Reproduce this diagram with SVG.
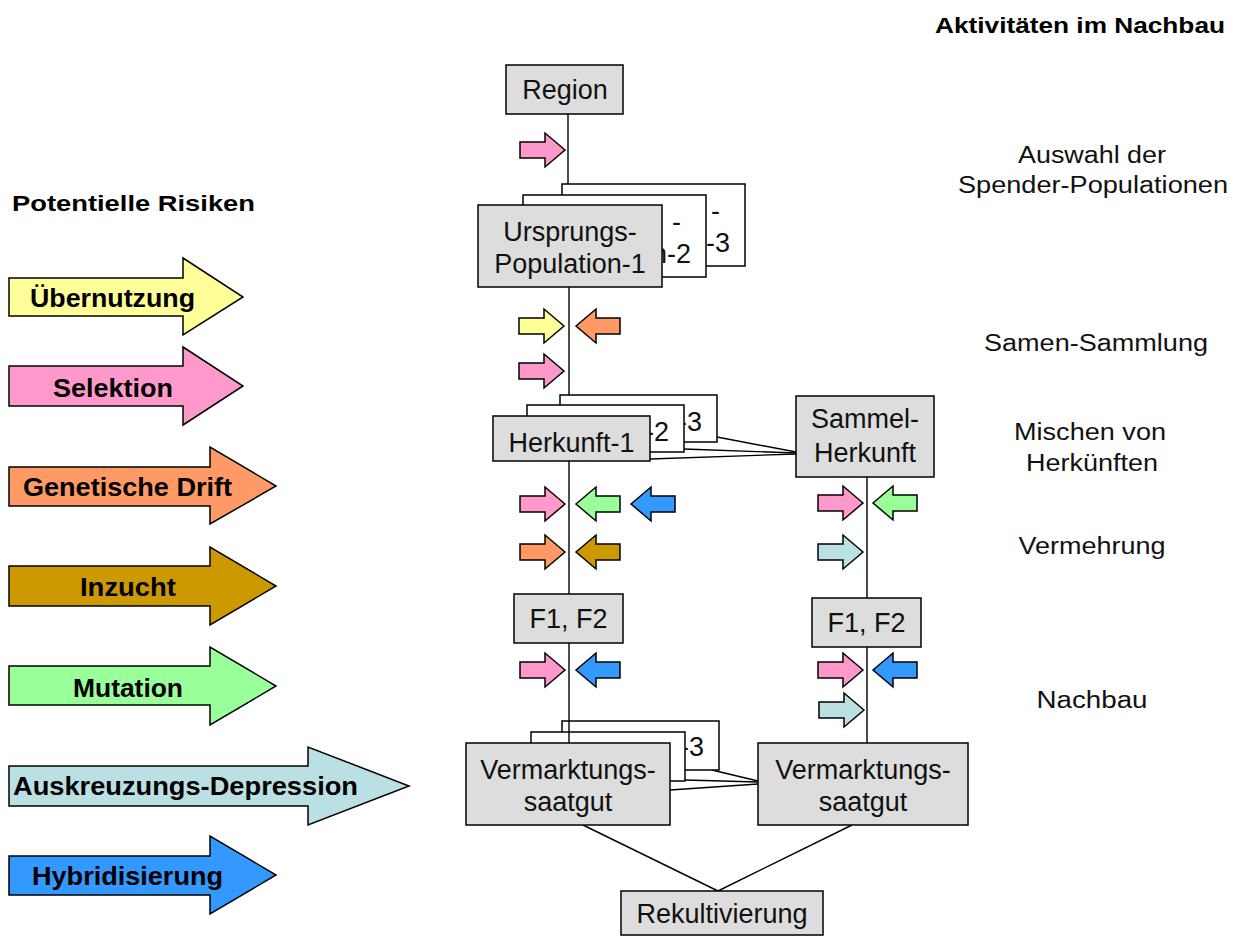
<svg xmlns="http://www.w3.org/2000/svg" xmlns:xlink="http://www.w3.org/1999/xlink" width="1237" height="936" viewBox="0 0 1237 936">
<style>
.box{fill:#dddddd;stroke:#000;stroke-width:1.5}
.wbox{fill:#fff;stroke:#000;stroke-width:1.5}
.nt{font-family:"Liberation Sans",Arial,sans-serif;font-size:27px;fill:#111;text-anchor:middle}
.ne{text-anchor:end}
.lt{font-family:"Liberation Sans",Arial,sans-serif;font-size:25px;font-weight:bold;fill:#000;text-anchor:middle}
.hd{font-family:"Liberation Sans",Arial,sans-serif;font-size:22px;font-weight:bold;fill:#000}
.rt{font-family:"Liberation Sans",Arial,sans-serif;font-size:23px;fill:#111;text-anchor:middle}
.ln{stroke:#000;stroke-width:1.4;fill:none}
.arr{stroke:#000;stroke-width:1.5;stroke-linejoin:miter}
.yel{fill:#ffff99}.pink{fill:#ff99cc}.ora{fill:#ff9966}.brn{fill:#cc9900}.grn{fill:#99ff99}.cya{fill:#bbe0e3}.blu{fill:#3399ff}
</style>
<defs>
<polygon id="ar" points="0,0 -20,-17 -20,-8 -45,-8 -45,8 -20,8 -20,17"/>
<polygon id="al" points="0,0 20,-17 20,-8 44,-8 44,8 20,8 20,17"/>
</defs>

<!-- headers -->
<text class="hd" x="12" y="211" textLength="243" lengthAdjust="spacingAndGlyphs">Potentielle Risiken</text>
<text class="hd" x="935" y="33" textLength="290" lengthAdjust="spacingAndGlyphs">Aktivitäten im Nachbau</text>

<!-- legend -->
<g id="legend-uebernutzung">
<polygon class="arr yel" points="9,278 183,278 183,258 243,297 183,335 183,316 9,316"/>
<text class="lt" x="112.5" y="307" textLength="165" lengthAdjust="spacingAndGlyphs">Übernutzung</text>
</g>
<g id="legend-selektion">
<polygon class="arr pink" points="9,366 183,366 183,347 243,386 183,425 183,406 9,406"/>
<text class="lt" x="113" y="397" textLength="120" lengthAdjust="spacingAndGlyphs">Selektion</text>
</g>
<g id="legend-drift">
<polygon class="arr ora" points="9,467 210,467 210,447 276,486 210,524 210,506 9,506"/>
<text class="lt" x="127.5" y="496" textLength="209" lengthAdjust="spacingAndGlyphs">Genetische Drift</text>
</g>
<g id="legend-inzucht">
<polygon class="arr brn" points="9,566 210,566 210,547 276,586 210,625 210,606 9,606"/>
<text class="lt" x="128" y="596" textLength="96" lengthAdjust="spacingAndGlyphs">Inzucht</text>
</g>
<g id="legend-mutation">
<polygon class="arr grn" points="9,666 210,666 210,647 276,686 210,725 210,705 9,705"/>
<text class="lt" x="128" y="697" textLength="110" lengthAdjust="spacingAndGlyphs">Mutation</text>
</g>
<g id="legend-auskreuzung">
<polygon class="arr cya" points="9,766 308,766 308,747 409,786 308,825 308,806 9,806"/>
<text class="lt" x="185.5" y="795" textLength="345" lengthAdjust="spacingAndGlyphs">Auskreuzungs-Depression</text>
</g>
<g id="legend-hybrid">
<polygon class="arr blu" points="9,856 210,856 210,836 276,875 210,914 210,895 9,895"/>
<text class="lt" x="127.5" y="885" textLength="191" lengthAdjust="spacingAndGlyphs">Hybridisierung</text>
</g>

<!-- right labels -->
<g id="labels">
<text class="rt" x="1092" y="163" textLength="148" lengthAdjust="spacingAndGlyphs">Auswahl der</text>
<text class="rt" x="1093" y="193" textLength="270" lengthAdjust="spacingAndGlyphs">Spender-Populationen</text>
<text class="rt" x="1096" y="351" textLength="224" lengthAdjust="spacingAndGlyphs">Samen-Sammlung</text>
<text class="rt" x="1090" y="440" textLength="152" lengthAdjust="spacingAndGlyphs">Mischen von</text>
<text class="rt" x="1092" y="471" textLength="132" lengthAdjust="spacingAndGlyphs">Herkünften</text>
<text class="rt" x="1092" y="554" textLength="147" lengthAdjust="spacingAndGlyphs">Vermehrung</text>
<text class="rt" x="1092" y="708" textLength="111" lengthAdjust="spacingAndGlyphs">Nachbau</text>
</g>

<!-- connectors -->
<g id="connectors">
<line class="ln" x1="568" y1="114" x2="568" y2="184"/>
<line class="ln" x1="569" y1="287" x2="569" y2="395"/>
<line class="ln" x1="569" y1="461" x2="569" y2="594"/>
<line class="ln" x1="717" y1="437" x2="796" y2="452"/>
<line class="ln" x1="684" y1="449" x2="796" y2="453"/>
<line class="ln" x1="650" y1="459" x2="796" y2="454"/>
<line class="ln" x1="867" y1="477" x2="867" y2="598"/>
<line class="ln" x1="867" y1="647" x2="867" y2="743"/>
<line class="ln" x1="712" y1="770" x2="758" y2="781"/>
<line class="ln" x1="685" y1="780" x2="758" y2="782"/>
<line class="ln" x1="670" y1="790" x2="758" y2="784"/>
<line class="ln" x1="583" y1="825" x2="718" y2="891"/>
<line class="ln" x1="852" y1="825" x2="718" y2="891"/>
</g>

<!-- nodes -->
<g id="region">
<rect class="box" x="506" y="65" width="117" height="49"/>
<text class="nt" x="565" y="99">Region</text>
</g>

<g id="ursprung-3">
<rect class="wbox" x="562" y="184" width="183" height="82"/>
<text class="nt ne" x="720" y="220">-</text>
<text class="nt ne" x="730" y="252">-3</text>
</g>
<g id="ursprung-2">
<rect class="wbox" x="523" y="195" width="183" height="82"/>
<text class="nt ne" x="681" y="231">-</text>
<text class="nt ne" x="691" y="263">n-2</text>
</g>
<g id="ursprung-1">
<rect class="box" x="478" y="205" width="184" height="82"/>
<text class="nt" x="570" y="241">Ursprungs-</text>
<text class="nt" x="570" y="273">Population-1</text>
</g>

<g id="herkunft-3">
<rect class="wbox" x="560" y="395" width="157" height="47"/>
<text class="nt ne" x="702" y="431">-3</text>
</g>
<g id="herkunft-2">
<rect class="wbox" x="527" y="405" width="157" height="47"/>
<text class="nt ne" x="669" y="441">-2</text>
</g>
<g id="herkunft-1">
<rect class="box" x="493" y="416" width="157" height="45"/>
<text class="nt" x="571.5" y="452">Herkunft-1</text>
</g>

<g id="sammel-herkunft">
<rect class="box" x="796" y="396" width="138" height="81"/>
<text class="nt" x="865" y="428">Sammel-</text>
<text class="nt" x="865" y="462">Herkunft</text>
</g>

<g id="f1f2-left">
<rect class="box" x="514" y="594" width="109" height="49"/>
<text class="nt" x="568.5" y="628">F1, F2</text>
</g>
<g id="f1f2-right">
<rect class="box" x="812" y="598" width="109" height="49"/>
<text class="nt" x="866.5" y="632">F1, F2</text>
</g>

<g id="vermarktung-3">
<rect class="wbox" x="562" y="721" width="157" height="49"/>
<text class="nt ne" x="704" y="756">-3</text>
</g>
<g id="vermarktung-2">
<rect class="wbox" x="531" y="732" width="154" height="49"/>
</g>
<line class="ln" x1="569" y1="643" x2="569" y2="743"/>
<g id="vermarktung-1">
<rect class="box" x="466" y="743" width="204" height="82"/>
<text class="nt" x="568" y="779">Vermarktungs-</text>
<text class="nt" x="568" y="811">saatgut</text>
</g>
<g id="vermarktung-right">
<rect class="box" x="758" y="743" width="210" height="82"/>
<text class="nt" x="863" y="779">Vermarktungs-</text>
<text class="nt" x="863" y="811">saatgut</text>
</g>

<g id="rekultivierung">
<rect class="box" x="621" y="891" width="202" height="44"/>
<text class="nt" x="722" y="923">Rekultivierung</text>
</g>

<!-- small risk arrows -->
<g id="risk-arrows">
<use href="#ar" xlink:href="#ar" class="arr pink" x="565" y="150"/>
<use href="#ar" xlink:href="#ar" class="arr yel" x="564" y="326"/>
<use href="#al" xlink:href="#al" class="arr ora" x="576" y="326"/>
<use href="#ar" xlink:href="#ar" class="arr pink" x="564" y="371"/>
<use href="#ar" xlink:href="#ar" class="arr pink" x="565" y="504"/>
<use href="#al" xlink:href="#al" class="arr grn" x="576" y="504"/>
<use href="#al" xlink:href="#al" class="arr blu" x="631" y="504"/>
<use href="#ar" xlink:href="#ar" class="arr ora" x="565" y="552"/>
<use href="#al" xlink:href="#al" class="arr brn" x="576" y="552"/>
<use href="#ar" xlink:href="#ar" class="arr pink" x="565" y="670"/>
<use href="#al" xlink:href="#al" class="arr blu" x="576" y="670"/>
<use href="#ar" xlink:href="#ar" class="arr pink" x="863" y="503"/>
<use href="#al" xlink:href="#al" class="arr grn" x="873" y="503"/>
<use href="#ar" xlink:href="#ar" class="arr cya" x="863" y="552"/>
<use href="#ar" xlink:href="#ar" class="arr pink" x="863" y="670"/>
<use href="#al" xlink:href="#al" class="arr blu" x="873" y="670"/>
<use href="#ar" xlink:href="#ar" class="arr cya" x="864" y="710"/>
</g>
</svg>
